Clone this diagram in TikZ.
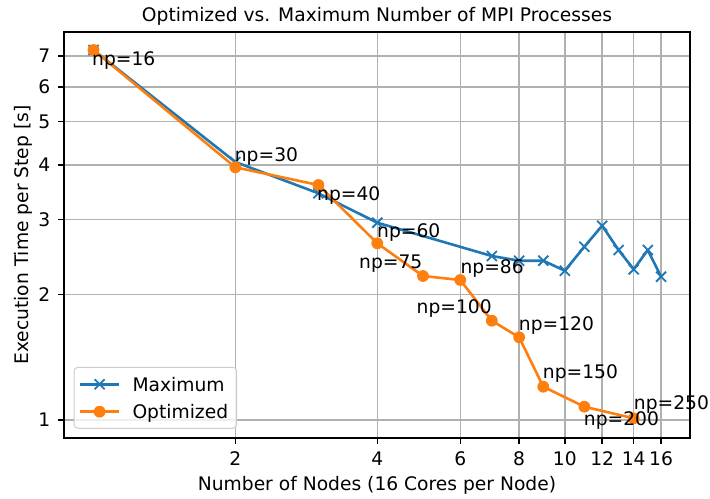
\documentclass[tikz,border=0pt]{standalone}
\usepackage{fontspec}
\setmainfont{DejaVu Sans}
\usetikzlibrary{positioning}

\definecolor{maxblue}{HTML}{1F77B4}
\definecolor{optorange}{HTML}{FF7F0E}
\definecolor{gridgray}{HTML}{B0B0B0}
\definecolor{legendgray}{HTML}{CCCCCC}

\tikzset{
  txt/.style={font=\fontsize{9.34}{11}\selectfont, inner sep=0pt},
  npl/.style={txt, anchor=base west},
  gridline/.style={gridgray, line width=0.7pt},
  axisline/.style={black, line width=0.7pt},
  maxline/.style={maxblue, line width=1.3pt, line join=round},
  optline/.style={optorange, line width=1.3pt, line join=round},
  crossmark/.pic={\draw[maxblue, line width=0.9pt] (-5,-5) -- (5,5) (-5,5) -- (5,-5);},
  dotmark/.pic={\fill[optorange] (0,0) circle[radius=2.95pt];},
}

\begin{document}
\begin{tikzpicture}[x=0.5pt, y=-0.5pt]
  \useasboundingbox (0,0) rectangle (710,498);

  % grid
  \foreach \n in {2,4,6,8,10,12,14,16}
    \draw[gridline] ({93.5+204.7*ln(\n)},32) -- ({93.5+204.7*ln(\n)},438);
  \foreach \t in {420,294.7,219.3,165,121.3,87,56}
    \draw[gridline] (64,\t) -- (690,\t);

  % data
  \foreach \n/\t in {1/50, 2/162, 3/193.3, 4/222.7, 7/256, 8/260.7, 9/260.7, 10/270.7,
                     11/246.7, 12/225.7, 13/250, 14/269.3, 15/250, 16/276.7}
    \coordinate (max\n) at ({93.5+204.7*ln(\n)},\t);
  \foreach \n/\t in {1/50, 2/167.3, 3/185, 4/243.3, 5/276, 6/280, 7/320.7, 8/337.3,
                     9/386.7, 11/406.7, 14/418.3}
    \coordinate (opt\n) at ({93.5+204.7*ln(\n)},\t);

  \draw[maxline] (max1) -- (max2) -- (max3) -- (max4) -- (max7) -- (max8) -- (max9)
    -- (max10) -- (max11) -- (max12) -- (max13) -- (max14) -- (max15) -- (max16);
  \foreach \n in {1,2,3,4,7,8,9,10,11,12,13,14,15,16}
    \pic at (max\n) {crossmark};

  \draw[optline] (opt1) -- (opt2) -- (opt3) -- (opt4) -- (opt5) -- (opt6) -- (opt7)
    -- (opt8) -- (opt9) -- (opt11) -- (opt14);
  \foreach \n in {1,2,3,4,5,6,7,8,9,11,14}
    \pic at (opt\n) {dotmark};

  % frame and ticks
  \draw[axisline] (64,32) rectangle (690,438);
  \foreach \n in {2,4,6,8,10,12,14,16} {
    \draw[axisline] ({93.5+204.7*ln(\n)},438) -- ({93.5+204.7*ln(\n)},444);
    \node[txt, anchor=base] (xt\n) at ({93.5+204.7*ln(\n)},465) {\n};
  }
  \foreach \v/\t in {1/420,2/294.7,3/219.3,4/165,5/121.3,6/87,7/56} {
    \draw[axisline] (58,\t) -- (64,\t);
    \node[txt, anchor=base east] (yt\v) at (50.7,\t+6.7) {\v};
  }

  % np labels
  \node[npl] (np16) at (91.8,65) {np=16};
  \node[npl] (np30) at (234.5,161.7) {np=30};
  \node[npl] (np40) at (316.8,200.7) {np=40};
  \node[npl] (np60) at (376.8,237.3) {np=60};
  \node[npl] (np75) at (358.8,268.8) {np=75};
  \node[npl] (np86) at (460.2,273.7) {np=86};
  \node[npl] (np100) at (416.3,313.3) {np=100};
  \node[npl] (np120) at (518.5,330) {np=120};
  \node[npl] (np150) at (542.5,378.3) {np=150};
  \node[npl] (np200) at (583.5,425) {np=200};
  \node[npl] (np250) at (633.5,409.3) {np=250};

  % legend
  \draw[legendgray, fill=white, fill opacity=0.8, rounded corners=2pt, line width=0.5pt]
    (74,367.3) rectangle (236.7,428.3);
  \coordinate (legmaxA) at (80,384.3);
  \coordinate (legmaxB) at (119.3,384.3);
  \coordinate (legoptA) at (80,411.7);
  \coordinate (legoptB) at (119.3,411.7);
  \draw[maxline] (legmaxA) -- (legmaxB);
  \pic at (99.6,384.3) {crossmark};
  \draw[optline] (legoptA) -- (legoptB);
  \pic at (99.6,411.7) {dotmark};
  \node[txt, text depth=0pt, right=6.4pt of legmaxB] (legmax) {Maximum};
  \node[txt, text depth=0pt, right=6.4pt of legoptB] (legopt) {Optimized};

  % titles
  \node[txt, anchor=base] (title) at (377,21.5) {Optimized vs. Maximum Number of MPI Processes};
  \node[txt, anchor=base] (xlabel) at (377,490) {Number of Nodes (16 Cores per Node)};
  \node[txt, anchor=base, rotate=90] (ylabel) at (28.4,235) {Execution Time per Step [s]};
\end{tikzpicture}
\end{document}
